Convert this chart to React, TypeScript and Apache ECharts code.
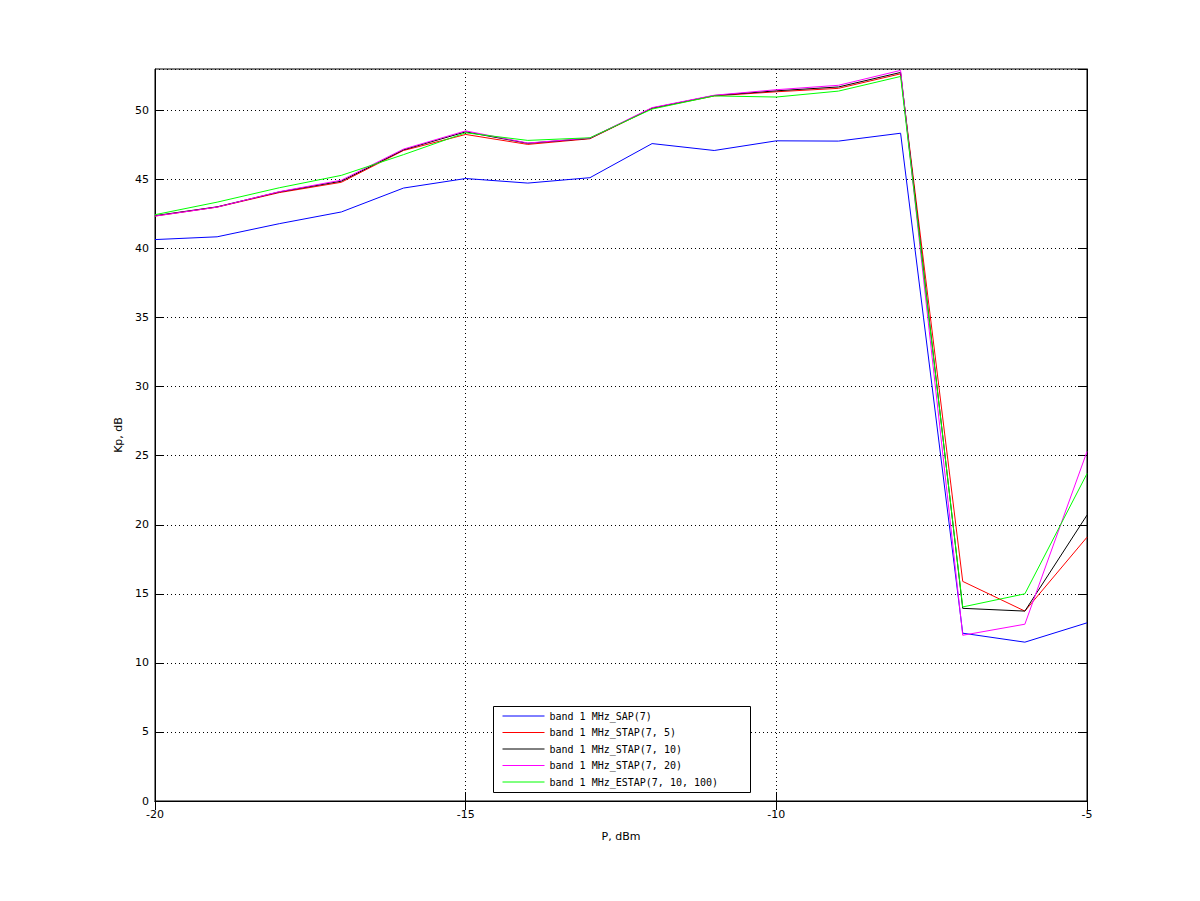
import React, { useEffect, useRef } from "react";
import * as echarts from "echarts";

const powerDbm = [-20, -19, -18, -17, -16, -15, -14, -13, -12, -11, -10, -9, -8, -7, -6, -5];

const sap7 = [40.65, 40.85, 41.8, 42.65, 44.38, 45.07, 44.74, 45.13, 47.6, 47.1, 47.8, 47.78, 48.35, 12.15, 11.5, 12.9];
const stap7_5 = [42.35, 43.0, 44.05, 44.8, 47.1, 48.26, 47.54, 47.95, 50.15, 51.05, 51.35, 51.6, 52.65, 15.9, 13.75, 19.1];
const stap7_10 = [42.38, 43.02, 44.1, 44.88, 47.15, 48.45, 47.62, 47.98, 50.17, 51.08, 51.42, 51.7, 52.75, 13.95, 13.75, 20.7];
const stap7_20 = [42.35, 43.0, 44.12, 44.95, 47.2, 48.52, 47.64, 48.0, 50.2, 51.1, 51.5, 51.82, 52.9, 12.0, 12.8, 25.3];
const estap = [42.45, 43.36, 44.4, 45.3, 46.8, 48.38, 47.83, 48.02, 50.1, 51.05, 50.97, 51.4, 52.46, 14.05, 15.0, 23.7];

const seriesNames = [
  "band 1 MHz_SAP(7)",
  "band 1 MHz_STAP(7, 5)",
  "band 1 MHz_STAP(7, 10)",
  "band 1 MHz_STAP(7, 20)",
  "band 1 MHz_ESTAP(7, 10, 100)",
];
const seriesColors = ["#0000ff", "#ff0000", "#000000", "#ff00ff", "#00ff00"];
const seriesValues = [sap7, stap7_5, stap7_10, stap7_20, estap];

export default function App() {
  const ref = useRef<HTMLDivElement>(null);
  useEffect(() => {
    if (!ref.current) return;
    const chart = echarts.init(ref.current, undefined, { renderer: "svg" });
    const font = "DejaVu Sans";
    chart.setOption({
      animation: false,
      backgroundColor: "#ffffff",
      grid: {
        left: 155,
        right: 113,
        top: 69,
        bottom: 100,
        show: true,
        borderColor: "#000",
        borderWidth: 1,
      },
      legend: {
        orient: "vertical",
        left: 502,
        top: 711,
        padding: 0,
        itemWidth: 42,
        itemHeight: 12,
        itemGap: 6.5,
        data: seriesNames,
        itemStyle: { opacity: 0 },
        lineStyle: { width: 1 },
        textStyle: { fontFamily: "DejaVu Sans Mono", fontSize: 10, color: "#000" },
        z: 10,
      },
      graphic: [
        {
          type: "rect",
          shape: { x: 493.5, y: 706.5, width: 257, height: 86 },
          style: { fill: "#fff", stroke: "#000", lineWidth: 1 },
          z: 8,
        },
      ],
      xAxis: [
        {
          type: "value",
          min: -20,
          max: -5,
          interval: 5,
          name: "P, dBm",
          nameLocation: "middle",
          nameGap: 30,
          nameTextStyle: { fontFamily: font, fontSize: 11, color: "#000" },
          axisLine: { show: true, onZero: false, lineStyle: { color: "#000" } },
          axisTick: { show: true, inside: true, length: 9, lineStyle: { color: "#000" } },
          axisLabel: { margin: 8, fontFamily: font, fontSize: 11, color: "#000" },
          splitLine: { show: true, lineStyle: { color: "#000", type: [1, 3], width: 1 } },
        },
        {
          type: "value",
          position: "top",
          min: -20,
          max: -5,
          interval: 5,
          axisLine: { show: true, lineStyle: { color: "#000" } },
          axisTick: { show: true, inside: true, length: 9, lineStyle: { color: "#000" } },
          axisLabel: { show: false },
          splitLine: { show: false },
        },
      ],
      yAxis: [
        {
          type: "value",
          min: 0,
          max: 53,
          interval: 5,
          name: "Kp, dB",
          nameLocation: "middle",
          nameGap: 27,
          nameTextStyle: { fontFamily: font, fontSize: 11, color: "#000" },
          axisLine: { show: true, onZero: false, lineStyle: { color: "#000" } },
          axisTick: { show: true, inside: true, length: 9, lineStyle: { color: "#000" } },
          axisLabel: { margin: 6, fontFamily: font, fontSize: 11, color: "#000", showMaxLabel: false },
          splitLine: { show: true, lineStyle: { color: "#000", type: [1, 3], width: 1 } },
        },
        {
          type: "value",
          position: "right",
          min: 0,
          max: 53,
          interval: 5,
          axisLine: { show: true, lineStyle: { color: "#000" } },
          axisTick: { show: true, inside: true, length: 9, lineStyle: { color: "#000" } },
          axisLabel: { show: false },
          splitLine: { show: false },
        },
      ],
      series: seriesNames.map((name, i) => ({
        name,
        type: "line",
        xAxisIndex: 0,
        yAxisIndex: 0,
        symbol: "none",
        color: seriesColors[i],
        lineStyle: { width: 1, color: seriesColors[i] },
        data: powerDbm.map((x, j) => [x, seriesValues[i][j]]),
        z: 2 + i,
      })),
    });
    return () => chart.dispose();
  }, []);
  return <div ref={ref} style={{ width: 1200, height: 901, margin: -8 }} />;
}
